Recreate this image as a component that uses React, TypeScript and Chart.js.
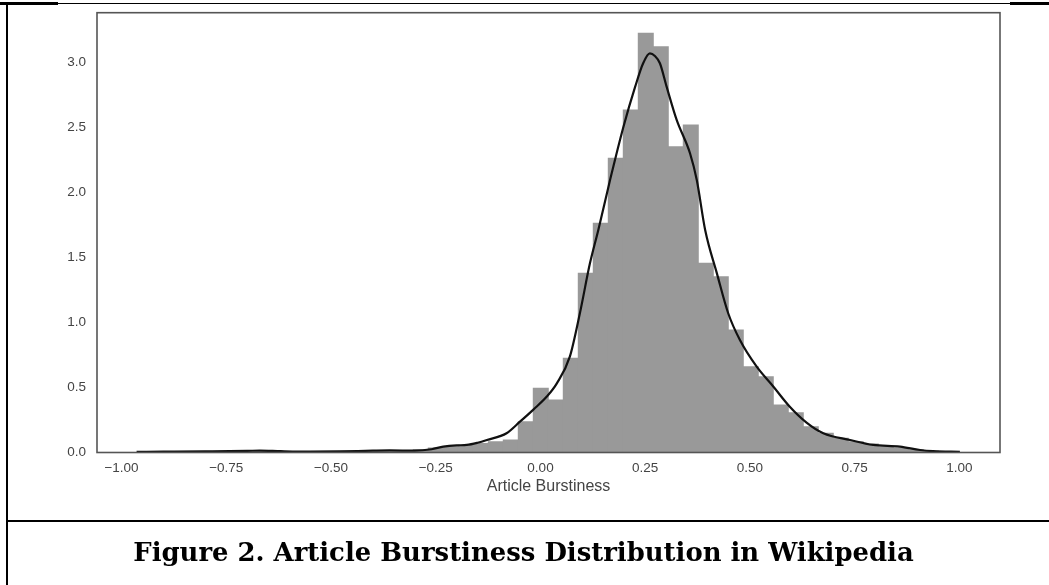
import React, { useEffect, useRef } from "react";
import { Chart, registerables } from "chart.js";

Chart.register(...registerables);

// Histogram bins (density), evenly spaced, first bin left edge = binStart
const binStart = -0.948;
const binWidth = 0.0358;
const binHeights = [
  0.004, 0.004, 0.005, 0.005, 0.006, 0.008, 0.012, 0.015, 0.012, 0.008,
  0.006, 0.005, 0.006, 0.008, 0.012, 0.015, 0.012, 0.015, 0.022, 0.035,
  0.045, 0.055, 0.07, 0.083, 0.096, 0.237, 0.494, 0.404, 0.725, 1.378,
  1.763, 2.263, 2.635, 3.225, 3.122, 2.352, 2.519, 1.455, 1.352, 0.942,
  0.66, 0.583, 0.365, 0.306, 0.198, 0.148, 0.109, 0.083, 0.065, 0.045,
  0.035, 0.022, 0.012, 0.006,
];

// KDE curve
const kdeX = [
  -0.964, -0.9, -0.8, -0.7, -0.67, -0.62, -0.55, -0.48, -0.4, -0.36, -0.3,
  -0.26, -0.232, -0.2, -0.176, -0.15, -0.128, -0.081, -0.049, -0.017, 0.015,
  0.039, 0.07, 0.094, 0.118, 0.138, 0.166, 0.198, 0.226, 0.245, 0.261, 0.273,
  0.285, 0.301, 0.325, 0.357, 0.373, 0.393, 0.421, 0.448, 0.476, 0.516, 0.556,
  0.595, 0.635, 0.675, 0.739, 0.794, 0.858, 0.906, 0.937, 1.001,
];
const kdeY = [
  0.005, 0.006, 0.008, 0.012, 0.015, 0.01, 0.006, 0.008, 0.014, 0.016, 0.014,
  0.025, 0.045, 0.055, 0.058, 0.075, 0.096, 0.148, 0.237, 0.33, 0.43,
  0.532, 0.737, 1.071, 1.455, 1.712, 2.096, 2.506, 2.814, 2.994, 3.07, 3.05,
  2.994, 2.814, 2.558, 2.3, 2.096, 1.712, 1.378, 1.071, 0.865, 0.66, 0.506,
  0.352, 0.23, 0.148, 0.096, 0.058, 0.045, 0.019, 0.01, 0.005,
];

const xTickValues = [-1, -0.75, -0.5, -0.25, 0, 0.25, 0.5, 0.75, 1];
const xTickLabels = ["−1.00", "−0.75", "−0.50", "−0.25", "0.00", "0.25", "0.50", "0.75", "1.00"];
const yTickValues = [0, 0.5, 1, 1.5, 2, 2.5, 3];
const yTickLabels = ["0.0", "0.5", "1.0", "1.5", "2.0", "2.5", "3.0"];
const xAxisTitle = "Article Burstiness";
const caption = "Figure 2. Article Burstiness Distribution in Wikipedia";

const X_MIN = -1.0585;
const X_MAX = 1.0967;
const Y_MAX = 3.383;

const framePlugin = {
  id: "frame",
  afterDraw(chart: any) {
    const { ctx, chartArea } = chart;
    ctx.save();
    ctx.strokeStyle = "#555555";
    ctx.lineWidth = 1.6;
    ctx.strokeRect(chartArea.left, chartArea.top, chartArea.right - chartArea.left, chartArea.bottom - chartArea.top);
    ctx.restore();
  },
};

export default function App() {
  const canvasRef = useRef<HTMLCanvasElement | null>(null);

  useEffect(() => {
    if (!canvasRef.current) return;
    const barData = binHeights.map((h, i) => ({ x: binStart + (i + 0.5) * binWidth, y: h }));
    const lineData = kdeX.map((x, i) => ({ x, y: kdeY[i] }));
    const tickFont = { family: "'Liberation Sans', Arial, sans-serif", size: 13.5 };
    const chart = new Chart(canvasRef.current, {
      type: "bar",
      data: {
        datasets: [
          {
            type: "line",
            data: lineData as any,
            borderColor: "#111111",
            borderWidth: 2.2,
            pointRadius: 0,
            cubicInterpolationMode: "monotone",
            fill: false,
            order: 0,
          } as any,
          {
            type: "bar",
            data: barData as any,
            backgroundColor: "#999999",
            borderWidth: 0,
            barPercentage: 1,
            categoryPercentage: 1,
            inflateAmount: 0.5,
            order: 1,
          } as any,
        ],
      },
      options: {
        animation: false,
        responsive: false,
        maintainAspectRatio: false,
        layout: { padding: { left: 0, right: 49, top: 12.7, bottom: 3.7 } },
        plugins: { legend: { display: false }, tooltip: { enabled: false } },
        scales: {
          x: {
            type: "linear",
            min: X_MIN,
            max: X_MAX,
            offset: false,
            grid: { display: false, drawTicks: false },
            border: { display: false },
            afterBuildTicks: (s: any) => {
              s.ticks = xTickValues.map((v) => ({ value: v }));
            },
            afterFit: (s: any) => {
              s.height = 43.8;
              s.paddingLeft = 0;
              s.paddingRight = 0;
            },
            ticks: {
              autoSkip: false,
              maxRotation: 0,
              padding: 8,
              color: "#444444",
              font: tickFont,
              callback: (v: any) => {
                const i = xTickValues.findIndex((t) => Math.abs(t - Number(v)) < 1e-9);
                return i >= 0 ? xTickLabels[i] : "";
              },
            },
            title: {
              display: true,
              text: xAxisTitle,
              color: "#444444",
              padding: { top: 0, bottom: 0 },
              font: { family: "'Liberation Sans', Arial, sans-serif", size: 16 },
            },
          },
          y: {
            type: "linear",
            min: 0,
            max: Y_MAX,
            grid: { display: false, drawTicks: false },
            border: { display: false },
            afterBuildTicks: (s: any) => {
              s.ticks = yTickValues.map((v) => ({ value: v }));
            },
            afterFit: (s: any) => {
              s.width = 97;
              s.paddingTop = 0;
              s.paddingBottom = 0;
            },
            ticks: {
              padding: 11,
              color: "#444444",
              font: tickFont,
              callback: (v: any) => {
                const i = yTickValues.findIndex((t) => Math.abs(t - Number(v)) < 1e-9);
                return i >= 0 ? yTickLabels[i] : "";
              },
            },
          },
        },
      },
      plugins: [framePlugin],
    } as any);
    return () => chart.destroy();
  }, []);

  return (
    <div style={{ position: "absolute", left: 0, top: 0, width: 1049, height: 585, background: "#ffffff", overflow: "hidden" }}>
      <canvas ref={canvasRef} width={1049} height={500} style={{ position: "absolute", left: 0, top: 0, width: 1049, height: 500 }} />
      {/* table borders */}
      <div style={{ position: "absolute", left: 6, top: 2, width: 2, height: 583, background: "#000" }} />
      <div style={{ position: "absolute", left: 8, top: 2.6, width: 1041, height: 1.3, background: "#000" }} />
      <div style={{ position: "absolute", left: 0, top: 1.7, width: 58, height: 3.3, background: "#000" }} />
      <div style={{ position: "absolute", left: 1010, top: 1.7, width: 39, height: 3.3, background: "#000" }} />
      <div style={{ position: "absolute", left: 8, top: 520, width: 1041, height: 2.2, background: "#000" }} />
      <div
        style={{
          position: "absolute",
          left: 0,
          top: 534,
          width: 1047,
          textAlign: "center",
          fontFamily: "Georgia, 'DejaVu Serif', serif",
          fontWeight: "bold",
          fontSize: 25.9,
          lineHeight: "36px",
          color: "#000",
          whiteSpace: "nowrap",
        }}
      >
        {caption}
      </div>
    </div>
  );
}
